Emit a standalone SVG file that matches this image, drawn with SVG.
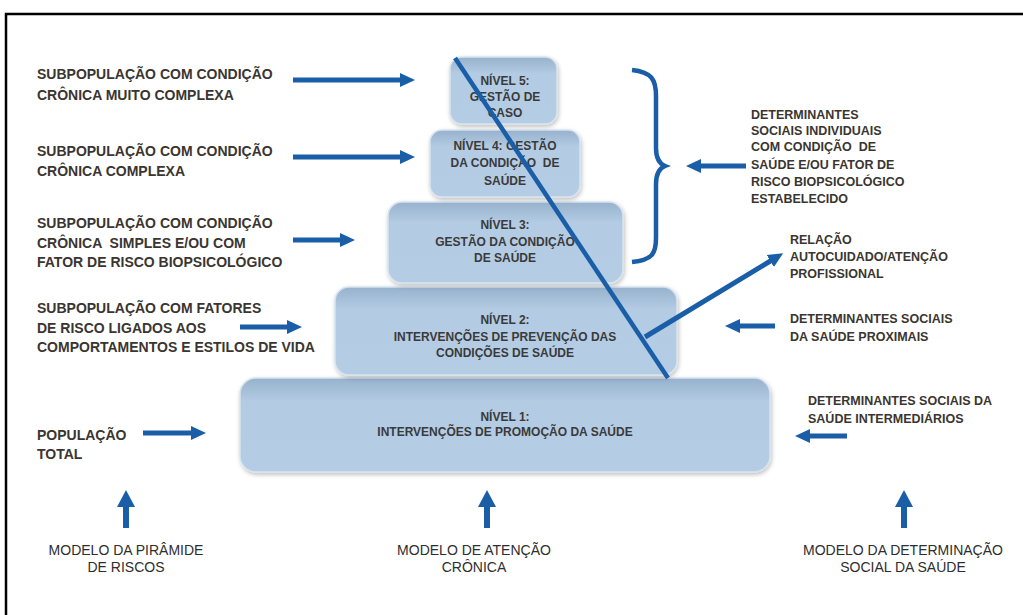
<svg xmlns="http://www.w3.org/2000/svg" width="1023" height="615" viewBox="0 0 1023 615">
<style>
.t{font-family:"Liberation Sans",Arial,sans-serif;font-weight:bold;font-size:14px;fill:#3a3530}
.r{font-family:"Liberation Sans",Arial,sans-serif;font-weight:bold;font-size:12.5px;fill:#3a3530}
.b{font-family:"Liberation Sans",Arial,sans-serif;font-weight:bold;font-size:12px;fill:#3a3a3a;text-anchor:middle}
.m{font-family:"Liberation Sans",Arial,sans-serif;font-size:14px;fill:#2e2e2e;text-anchor:middle}
.box{fill:url(#g);stroke:#d6e3ef;stroke-width:1.5;filter:url(#sh)}
.ar{stroke:#1a5ea8;stroke-width:5;fill:none;marker-end:url(#ah)}
.up{stroke:#1a5ea8;stroke-width:6;fill:none;marker-end:url(#uh)}
.ln{stroke:#1a5ea8;stroke-width:4.5;fill:none}
</style>
<defs>
<linearGradient id="g" x1="0" y1="0" x2="0" y2="1">
<stop offset="0" stop-color="#97b2cd"/>
<stop offset="0.25" stop-color="#b3cbe3"/>
<stop offset="1" stop-color="#b4cce4"/>
</linearGradient>
<filter id="sh" x="-10%" y="-10%" width="120%" height="130%">
<feDropShadow dx="1" dy="2" stdDeviation="2" flood-color="#000" flood-opacity="0.25"/>
</filter>
<marker id="ah" markerUnits="userSpaceOnUse" markerWidth="16" markerHeight="16" viewBox="0 0 16 16" refX="2" refY="8" orient="auto">
<path d="M0,1 L15,8 L0,15 Z" fill="#1a5ea8"/>
</marker>
<marker id="uh" markerUnits="userSpaceOnUse" markerWidth="20" markerHeight="18" viewBox="0 0 20 18" refX="2" refY="9" orient="auto">
<path d="M0,0 L17,9 L0,18 Z" fill="#1a5ea8"/>
</marker>
</defs>
<rect width="1023" height="615" fill="#fff"/>
<path d="M6,615 V14 H1023" fill="none" stroke="#000" stroke-width="2.5"/>

<g id="nivel1"><rect class="box" x="240" y="378" width="530" height="94" rx="16"/>
<text class="b" x="505" y="421">NÍVEL 1:</text><text class="b" x="505" y="436" font-weight="normal">INTERVENÇÕES DE PROMOÇÃO DA SAÚDE</text></g>
<g id="nivel2"><rect class="box" x="335" y="287" width="342" height="88" rx="14"/>
<text class="b" x="505" y="324">NÍVEL 2:</text><text class="b" x="505" y="341">INTERVENÇÕES DE PREVENÇÃO DAS</text><text class="b" x="505" y="357">CONDIÇÕES DE SAÚDE</text></g>
<g id="nivel3"><rect class="box" x="388" y="202" width="235" height="81" rx="14"/>
<text class="b" x="505" y="229">NÍVEL 3:</text><text class="b" x="505" y="246">GESTÃO DA CONDIÇÃO</text><text class="b" x="505" y="262">DE SAÚDE</text></g>
<g id="nivel4"><rect class="box" x="430" y="130" width="150" height="67" rx="12"/>
<text class="b" x="505" y="150">NÍVEL 4: GESTÃO</text><text class="b" x="505" y="167" xml:space="preserve">DA CONDIÇÃO  DE</text><text class="b" x="505" y="185">SAÚDE</text></g>
<g id="nivel5"><rect class="box" x="450" y="57" width="107" height="67" rx="12"/>
<text class="b" x="505" y="85">NÍVEL 5:</text><text class="b" x="505" y="101">GESTÃO DE</text><text class="b" x="505" y="117">CASO</text></g>

<g id="connectors">
<path class="ln" d="M455,58 L668,378"/>
<path class="ar" d="M645,337 L772,260"/>
<path class="ln" d="M632,70 C652,72 656,80 656,96 L656,148 C656,160 660,164 665,166 C660,168 656,172 656,184 L656,238 C656,254 652,260 632,262"/>
<path class="ar" d="M746,166 L699,166"/>
<path class="ar" d="M293,80 L402,80"/>
<path class="ar" d="M293,157 L402,157"/>
<path class="ar" d="M293,240 L342,240"/>
<path class="ar" d="M240,327 L289,327"/>
<path class="ar" d="M143,433 L193,433"/>
<path class="ar" d="M775,326 L738,326"/>
<path class="ar" d="M847,436 L808,436"/>
<path class="up" d="M126,528 L126,505"/>
<path class="up" d="M487,528 L487,505"/>
<path class="up" d="M904,528 L904,505"/>
</g>

<g id="left-labels">
<text class="t" x="37" y="79">SUBPOPULAÇÃO COM CONDIÇÃO</text>
<text class="t" x="37" y="100">CRÔNICA MUITO COMPLEXA</text>
<text class="t" x="37" y="156">SUBPOPULAÇÃO COM CONDIÇÃO</text>
<text class="t" x="37" y="176">CRÔNICA COMPLEXA</text>
<text class="t" x="37" y="228">SUBPOPULAÇÃO COM CONDIÇÃO</text>
<text class="t" x="37" y="248" xml:space="preserve">CRÔNICA  SIMPLES E/OU COM</text>
<text class="t" x="37" y="267">FATOR DE RISCO BIOPSICOLÓGICO</text>
<text class="t" x="37" y="313">SUBPOPULAÇÃO COM FATORES</text>
<text class="t" x="37" y="333">DE RISCO LIGADOS AOS</text>
<text class="t" x="37" y="352">COMPORTAMENTOS E ESTILOS DE VIDA</text>
<text class="t" x="37" y="440">POPULAÇÃO</text>
<text class="t" x="37" y="459">TOTAL</text>
</g>

<g id="right-labels">
<text class="r" x="751" y="119">DETERMINANTES</text>
<text class="r" x="751" y="135">SOCIAIS INDIVIDUAIS</text>
<text class="r" x="751" y="151" xml:space="preserve">COM CONDIÇÃO  DE</text>
<text class="r" x="751" y="169">SAÚDE E/OU FATOR DE</text>
<text class="r" x="751" y="186">RISCO BIOPSICOLÓGICO</text>
<text class="r" x="751" y="203">ESTABELECIDO</text>
<text class="r" x="790" y="244">RELAÇÃO</text>
<text class="r" x="790" y="261">AUTOCUIDADO/ATENÇÃO</text>
<text class="r" x="790" y="278">PROFISSIONAL</text>
<text class="r" x="790" y="323">DETERMINANTES SOCIAIS</text>
<text class="r" x="790" y="341">DA SAÚDE PROXIMAIS</text>
<text class="r" x="808" y="405">DETERMINANTES SOCIAIS DA</text>
<text class="r" x="808" y="423">SAÚDE INTERMEDIÁRIOS</text>
</g>

<g id="bottom-labels">
<text class="m" x="126" y="555">MODELO DA PIRÂMIDE</text>
<text class="m" x="126" y="572">DE RISCOS</text>
<text class="m" x="474" y="555">MODELO DE ATENÇÃO</text>
<text class="m" x="474" y="572">CRÔNICA</text>
<text class="m" x="903" y="555">MODELO DA DETERMINAÇÃO</text>
<text class="m" x="903" y="572">SOCIAL DA SAÚDE</text>
</g>
</svg>
